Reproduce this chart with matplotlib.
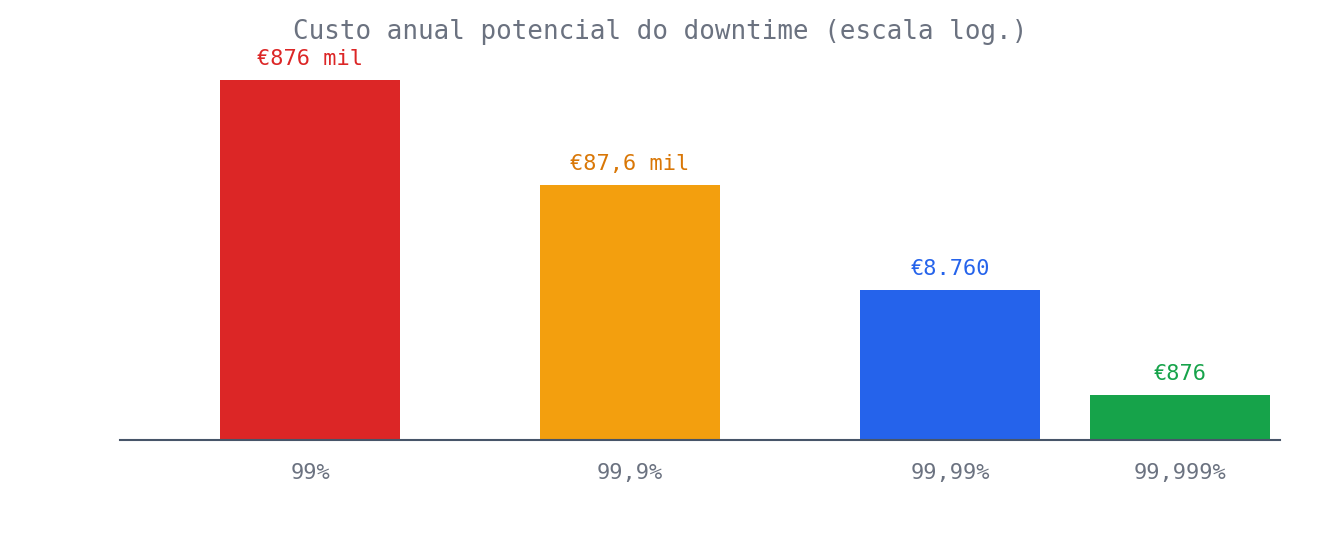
import numpy as np
import matplotlib.pyplot as plt

plt.rcParams['font.family'] = ['DejaVu Sans Mono', 'DejaVu Sans']

niveis = ["99%", "99,9%", "99,99%", "99,999%"]
posicoes = [0, 1, 2, 2.71875]
custos = [876000, 87600, 8760, 876]
rotulos = ["€876 mil", "€87,6 mil", "€8.760", "€876"]
cores_barras = ["#dc2626", "#f39f0e", "#2563eb", "#16a34a"]
cores_texto = ["#dc2626", "#d97706", "#2563eb", "#16a34a"]

fig = plt.figure(figsize=(13.2, 5.6), dpi=100)
ax = fig.add_axes([120 / 1320, 120 / 560, 1160 / 1320, 360 / 560])

ax.bar(posicoes, custos, width=0.5625, color=cores_barras, bottom=0)
ax.set_yscale("log")
ax.set_ylim(326.7, 876000)
ax.set_xlim(-0.59375, 3.03125)

for x, v, t, c in zip(posicoes, custos, rotulos, cores_texto):
    ax.annotate(t, (x, v), xytext=(0, 15), textcoords="offset points",
                ha="center", va="center", color=c, fontsize=15.8)

ax.set_xticks(posicoes)
ax.set_xticklabels(niveis)
ax.tick_params(axis="x", length=0, pad=16.5, labelsize=15.8, labelcolor="#6b7280")
ax.set_yticks([])
ax.yaxis.set_minor_locator(plt.NullLocator())
for s in ["top", "right", "left"]:
    ax.spines[s].set_visible(False)
ax.spines["bottom"].set_color("#475569")
ax.spines["bottom"].set_linewidth(1.5)

fig.text(0.5, 1 - 32 / 560, "Custo anual potencial do downtime (escala log.)",
         ha="center", va="center", fontsize=18.6, color="#6b7280")

fig.savefig("out.png", dpi=100)
